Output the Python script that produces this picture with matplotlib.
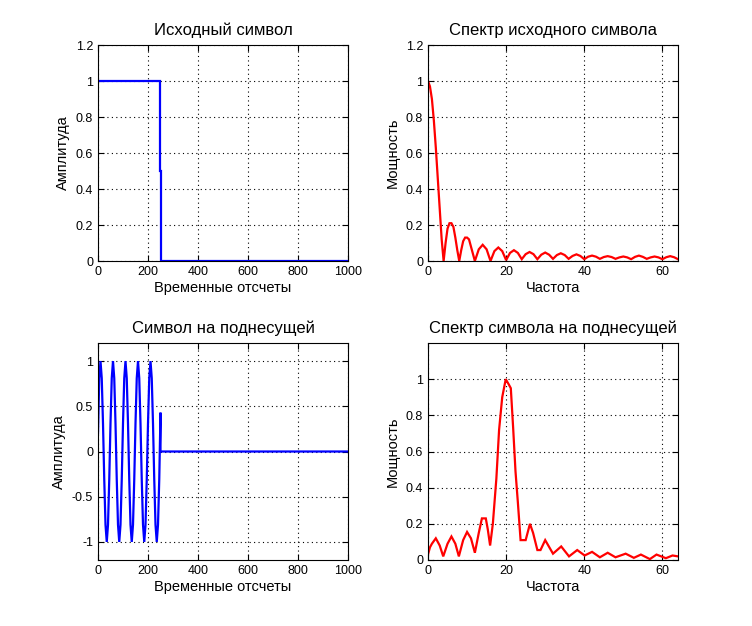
import matplotlib
matplotlib.use("Agg")
import matplotlib.pyplot as plt
from matplotlib.ticker import FuncFormatter

plt.rcParams['font.family'] = ['Liberation Sans', 'DejaVu Sans']

# ---- Data ----
# Original symbol (time samples)
t1 = [0, 249, 249, 252, 252, 1000]
a1 = [1.0, 1.0, 0.5, 0.5, 0.0, 0.0]

# Spectrum of the original symbol
f1 = [0, 0.5, 1, 1.5, 2, 2.5, 3, 3.5, 4, 4.5, 5, 5.5, 6, 6.5, 7, 7.5, 8,
      8.5, 9, 9.5, 10, 10.5, 11, 11.5, 12, 13, 14, 15, 16, 17, 18, 19, 20,
      21, 22, 23, 24, 25, 26, 27, 28, 29, 30, 31, 32, 33, 34, 35, 36, 37, 38,
      39, 40, 41, 42, 43, 44, 45, 46, 47, 48, 49, 50, 51, 52, 53, 54, 55, 56,
      57, 58, 59, 60, 61, 62, 63, 64]
p1 = [1.0, 0.97, 0.9, 0.78, 0.63, 0.46, 0.29, 0.12, 0.0, 0.1, 0.18, 0.21, 0.21,
      0.19, 0.13, 0.06, 0.0, 0.06, 0.11, 0.13, 0.13, 0.12, 0.08, 0.04, 0.0,
      0.065, 0.09, 0.065, 0.0, 0.055, 0.075, 0.055, 0.005, 0.045, 0.06, 0.045,
      0.01, 0.038, 0.05, 0.038, 0.01, 0.035, 0.047, 0.035, 0.012, 0.033, 0.043,
      0.033, 0.012, 0.028, 0.037, 0.028, 0.01, 0.024, 0.03, 0.024, 0.012, 0.022,
      0.027, 0.022, 0.012, 0.02, 0.025, 0.02, 0.01, 0.023, 0.03, 0.023, 0.012,
      0.02, 0.025, 0.02, 0.01, 0.021, 0.027, 0.021, 0.01]

# Symbol on the subcarrier (time samples)
t2 = [0, 5, 10, 15, 20, 25, 30, 35, 40, 45, 50, 55, 60, 65, 70, 75, 80, 85,
      90, 95, 100, 105, 110, 115, 120, 125, 130, 135, 140, 145, 150, 155, 160,
      165, 170, 175, 180, 185, 190, 195, 200, 205, 210, 215, 220, 225, 230,
      235, 240, 245, 250, 250, 1000]
a2 = [0.2, 0.81, 1.0, 0.81, 0.31, -0.31, -0.81, -1.0, -0.81, -0.31,
      0.31, 0.81, 1.0, 0.81, 0.31, -0.31, -0.81, -1.0, -0.81, -0.31,
      0.31, 0.81, 1.0, 0.81, 0.31, -0.31, -0.81, -1.0, -0.81, -0.31,
      0.31, 0.81, 1.0, 0.81, 0.31, -0.31, -0.81, -1.0, -0.81, -0.31,
      0.31, 0.81, 1.0, 0.81, 0.31, -0.31, -0.81, -1.0, -0.81, -0.31,
      0.43, 0.0, 0.0]

# Spectrum of the symbol on the subcarrier
f2 = [0, 0.5, 1, 2, 3, 3.9, 5, 6, 7, 7.9, 9, 10, 11, 12, 13, 13.8, 14.8, 15.3,
      15.9, 16.6, 17.5, 18.2, 19, 19.9, 20.7, 21.2, 21.8, 22.4, 23, 23.7,
      25, 26.1, 26.9, 28, 28.8, 30, 32, 34.1, 36.1, 38.2, 40.1, 42, 44, 46,
      48, 50.6, 52.7, 54.5, 56.8, 58.5, 60.9, 62.6, 64]
p2 = [0.03, 0.07, 0.09, 0.12, 0.08, 0.02, 0.09, 0.13, 0.09, 0.02, 0.11, 0.155,
      0.12, 0.04, 0.15, 0.23, 0.23, 0.17, 0.08, 0.2, 0.45, 0.72, 0.9, 1.0, 0.97,
      0.95, 0.73, 0.49, 0.32, 0.11, 0.11, 0.2, 0.15, 0.055, 0.055, 0.11, 0.035,
      0.075, 0.02, 0.055, 0.025, 0.045, 0.015, 0.04, 0.015, 0.035, 0.012, 0.03,
      0.005, 0.03, 0.01, 0.025, 0.02]

titles = ['Исходный символ', 'Спектр исходного символа',
          'Символ на поднесущей', 'Спектр символа на поднесущей']
xlabels = ['Временные отсчеты', 'Частота', 'Временные отсчеты', 'Частота']
ylabels = ['Амплитуда', 'Мощность', 'Амплитуда', 'Мощность']

# ---- Figure ----
W, H = 752, 626
fig = plt.figure(figsize=(W / 100, H / 100), dpi=100)

def ax_at(x0, y0, x1, y1):
    return fig.add_axes([x0 / W, 1 - y1 / H, (x1 - x0) / W, (y1 - y0) / H])

axes = [ax_at(98, 45, 348, 261), ax_at(428, 45, 678, 261),
        ax_at(98, 343, 348, 560), ax_at(428, 343, 678, 560)]

fmt = FuncFormatter(lambda v, p: ('%g' % round(v, 6)))

series = [(t1, a1, 'blue'), (f1, p1, 'red'), (t2, a2, 'blue'), (f2, p2, 'red')]
for i, ax in enumerate(axes):
    x, y, c = series[i]
    ax.plot(x, y, color=c, lw=1.6, solid_joinstyle='miter')
    ax.set_title(titles[i], fontsize=12, pad=7)
    ax.set_xlabel(xlabels[i], fontsize=10.5, labelpad=2)
    ax.set_ylabel(ylabels[i], fontsize=10.5, labelpad=4)
    ax.grid(True, color='black', linestyle=(0, (1, 3)), linewidth=0.8)
    ax.tick_params(direction='in', labelsize=9, length=4, top=True, right=True)
    ax.yaxis.set_major_formatter(fmt)
    for s in ax.spines.values():
        s.set_linewidth(0.8)

axes[0].set_xlim(0, 1000); axes[0].set_ylim(0, 1.2)
axes[0].set_xticks([0, 200, 400, 600, 800, 1000])
axes[0].set_yticks([0, 0.2, 0.4, 0.6, 0.8, 1.0, 1.2])

axes[1].set_xlim(0, 64); axes[1].set_ylim(0, 1.2)
axes[1].set_xticks([0, 20, 40, 60])
axes[1].set_yticks([0, 0.2, 0.4, 0.6, 0.8, 1.0, 1.2])

axes[2].set_xlim(0, 1000); axes[2].set_ylim(-1.2, 1.2)
axes[2].set_xticks([0, 200, 400, 600, 800, 1000])
axes[2].set_yticks([-1, -0.5, 0, 0.5, 1])

axes[3].set_xlim(0, 64); axes[3].set_ylim(0, 1.2)
axes[3].set_xticks([0, 20, 40, 60])
axes[3].set_yticks([0, 0.2, 0.4, 0.6, 0.8, 1.0])

fig.savefig('out.png', dpi=100)
